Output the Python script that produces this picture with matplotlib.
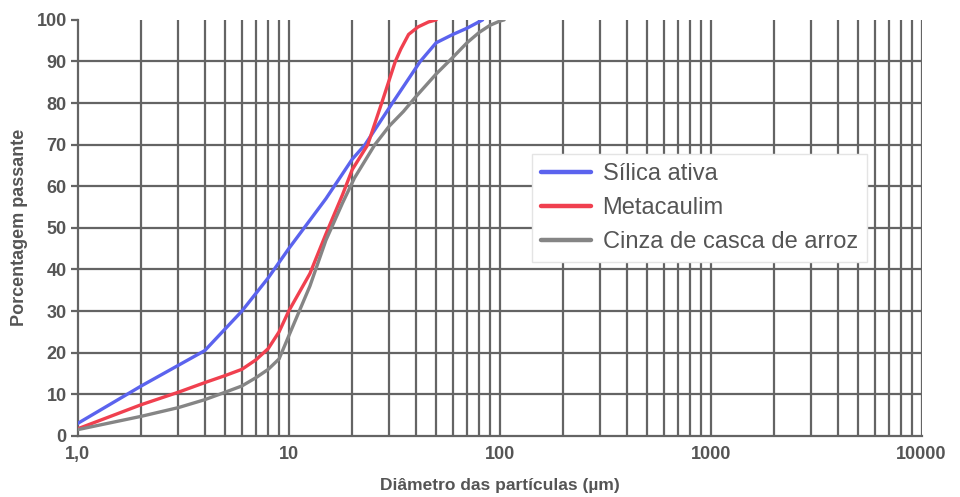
import numpy as np
import matplotlib
matplotlib.use("Agg")
import matplotlib.pyplot as plt
from matplotlib.ticker import FixedLocator, NullFormatter

# --- data ---
silica_x = [1, 2, 4, 6, 8, 10, 15, 20, 23, 31, 42, 50, 60, 70, 83]
silica_y = [3, 12, 20.5, 30, 38, 45, 57, 66.5, 70, 80, 90, 94.5, 96.5, 98, 100]

meta_x = [1, 2, 3, 4, 5, 6, 7, 8, 9, 10, 12.6, 15, 18, 20, 23.7, 28, 32, 34, 37, 41, 46, 50]
meta_y = [1.7, 7.5, 10.5, 12.8, 14.5, 16, 18.3, 21, 25, 30, 39, 48.5, 58, 64, 70, 81, 90, 93, 96.5, 98.3, 99.5, 100]

cinza_x = [1, 2, 3, 4, 5, 6, 7, 8, 9, 10, 12.6, 15, 18, 20.5, 25.6, 30, 35, 40, 50, 60, 70, 80, 90, 100, 105]
cinza_y = [1.5, 4.7, 6.8, 8.7, 10.5, 12, 14, 16, 18.5, 24, 36, 47, 56, 62, 70, 74.5, 78, 81.5, 87, 91, 94.5, 97, 98.7, 99.7, 100]

series_labels = ["Sílica ativa", "Metacaulim", "Cinza de casca de arroz"]
x_tick_vals = [1, 10, 100, 1000, 10000]
x_tick_labels = ["1,0", "10", "100", "1000", "10000"]
y_tick_vals = [0, 10, 20, 30, 40, 50, 60, 70, 80, 90, 100]

plt.rcParams['font.family'] = ['Liberation Sans', 'DejaVu Sans']

fig = plt.figure(figsize=(9.6, 4.97), dpi=100)
ax = fig.add_axes([0.081, 0.123, 0.879, 0.837])

ax.set_xscale('log')
ax.set_xlim(1, 10000)
ax.set_ylim(0, 100)

grid_c = '#646464'
grid_lw = 1.6

# vertical grid lines at every integer multiple within each decade
vgrid = [m * 10 ** k for k in range(0, 4) for m in range(2, 11)]
for v in vgrid:
    ax.axvline(v, color=grid_c, lw=grid_lw, zorder=1)
for h in y_tick_vals[1:-1]:
    ax.axhline(h, color=grid_c, lw=grid_lw, zorder=1)

colors = ['#5b63ee', '#f0404f', '#858585']
for xs, ys, c, lab in zip([silica_x, meta_x, cinza_x], [silica_y, meta_y, cinza_y], colors, series_labels):
    ax.plot(xs, ys, color=c, lw=2.4, label=lab, zorder=3, solid_capstyle='round')

for s in ['top', 'right']:
    ax.spines[s].set_visible(False)
for s in ['left', 'bottom']:
    ax.spines[s].set_color(grid_c)
    ax.spines[s].set_linewidth(grid_lw)

ax.xaxis.set_major_locator(FixedLocator(x_tick_vals))
ax.set_xticklabels(x_tick_labels)
ax.xaxis.set_minor_formatter(NullFormatter())
ax.tick_params(axis='x', which='both', length=0, pad=7)
ax.set_yticks(y_tick_vals)
ax.tick_params(axis='y', length=5, width=grid_lw, color=grid_c, pad=3)
for lbl in ax.get_xticklabels() + ax.get_yticklabels():
    lbl.set_fontsize(13)
    lbl.set_fontweight('bold')
    lbl.set_color('#555555')

ax.set_xlabel("Diâmetro das partículas (µm)", fontsize=12.5, fontweight='bold', color='#555555', labelpad=11)
ax.set_ylabel("Porcentagem passante", fontsize=13, fontweight='bold', color='#555555', labelpad=6)

leg = ax.legend(loc='upper left', bbox_to_anchor=(0.538, 0.678), fontsize=17, frameon=True,
                fancybox=False, edgecolor='#e4e4e4', framealpha=1, handlelength=2.1,
                borderpad=0.4, labelspacing=0.5, handletextpad=0.5, borderaxespad=0)
leg.set_zorder(5)
for line in leg.get_lines():
    line.set_linewidth(3.2)
for t in leg.get_texts():
    t.set_color('#555555')

fig.savefig('out.png', dpi=100)
